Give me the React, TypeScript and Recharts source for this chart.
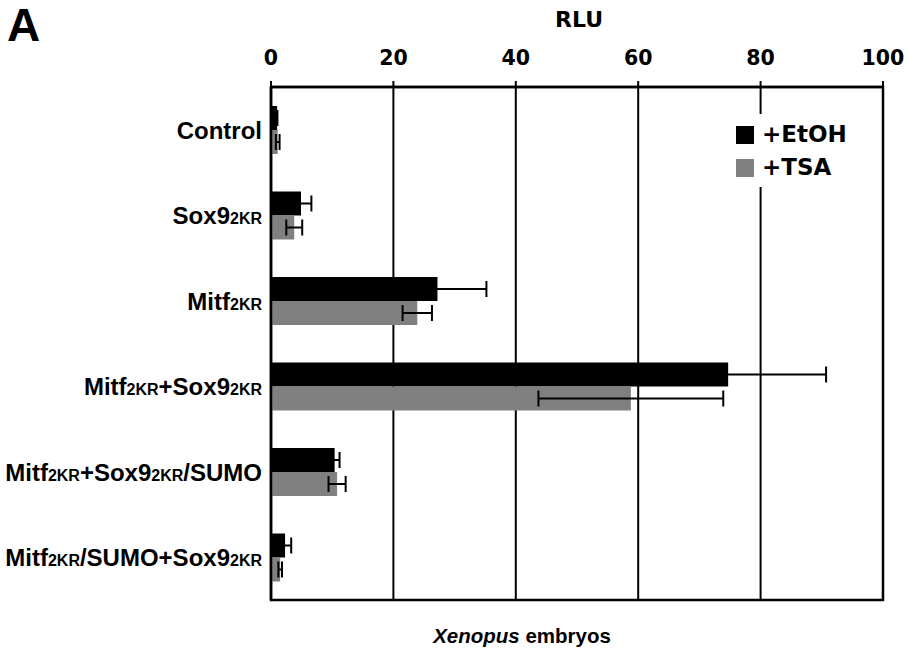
import { Fragment } from "react";
import {
  Bar,
  BarChart,
  CartesianGrid,
  ErrorBar,
  Legend,
  ReferenceArea,
  XAxis,
  YAxis
} from "recharts";

const categories = [
  "Control",
  "Sox92KR",
  "Mitf2KR",
  "Mitf2KR+Sox92KR",
  "Mitf2KR+Sox92KR/SUMO",
  "Mitf2KR/SUMO+Sox92KR"
];
const etohValues = [1.0, 4.9, 27.2, 74.7, 10.4, 2.3];
const etohErrors = [0.05, 1.7, 8.0, 16.0, 0.8, 1.0];
const tsaValues = [1.1, 3.8, 23.9, 58.8, 10.8, 1.5];
const tsaErrors = [0.3, 1.3, 2.4, 15.1, 1.4, 0.3];
const rluTicks = [0, 20, 40, 60, 80, 100];
const seriesNames = ["+EtOH", "+TSA"];
const seriesColors = ["#000000", "#808080"];

const data = categories.map((name, i) => ({
  name,
  etoh: etohValues[i],
  etohErr: etohErrors[i],
  tsa: tsaValues[i],
  tsaErr: tsaErrors[i]
}));

const sans = "'Liberation Sans', Arial, sans-serif";
const dejavu = "'DejaVu Sans', Verdana, sans-serif";

function CategoryTick({ x, y, payload }: any) {
  const parts = String(payload.value).split("2KR");
  return (
    <text
      x={x}
      y={y}
      dy={9}
      textAnchor="end"
      fontFamily={sans}
      fontWeight={700}
      fontSize={24}
      fill="#000"
    >
      {parts.map((part, i) => (
        <Fragment key={i}>
          {part && <tspan>{part}</tspan>}
          {i < parts.length - 1 && <tspan fontSize={16}>2KR</tspan>}
        </Fragment>
      ))}
    </text>
  );
}

function RluTick({ x, y, payload }: any) {
  return (
    <text
      x={x}
      y={y}
      textAnchor="middle"
      fontFamily={dejavu}
      fontWeight={700}
      fontSize={20.5}
      fill="#000"
    >
      {payload.value}
    </text>
  );
}

function LegendBox() {
  return (
    <div
      style={{
        background: "#fff",
        width: 140,
        height: 73,
        boxSizing: "border-box",
        padding: "4px 0 0 8px"
      }}
    >
      {seriesNames.map((name, i) => (
        <div
          key={name}
          style={{ display: "flex", alignItems: "center", height: 33 }}
        >
          <span
            style={{
              width: 18,
              height: 18,
              background: seriesColors[i],
              display: "inline-block",
              marginRight: 8
            }}
          />
          <span
            style={{
              fontFamily: dejavu,
              fontWeight: 700,
              fontSize: 23,
              color: "#000",
              lineHeight: "33px"
            }}
          >
            {name}
          </span>
        </div>
      ))}
    </div>
  );
}

export default function App() {
  return (
    <div style={{ position: "relative", width: 908, height: 652, background: "#fff" }}>
      <style>{"body { margin: 0; }"}</style>
      <BarChart
        layout="vertical"
        width={908}
        height={652}
        data={data}
        margin={{ top: 47, right: 25, bottom: 52, left: 0 }}
        barGap={0}
        barSize={24}
      >
        <CartesianGrid horizontal={false} stroke="#000" strokeWidth={2} />
        <XAxis
          type="number"
          orientation="top"
          height={40}
          domain={[0, 100]}
          ticks={rluTicks}
          interval={0}
          tick={<RluTick />}
          tickSize={6}
          tickMargin={16}
          tickLine={{ stroke: "#000", strokeWidth: 2 }}
          axisLine={{ stroke: "#000", strokeWidth: 2.5 }}
        />
        <YAxis
          type="category"
          dataKey="name"
          width={271}
          tick={<CategoryTick />}
          tickLine={false}
          tickSize={0}
          tickMargin={9}
          interval={0}
          axisLine={{ stroke: "#000", strokeWidth: 2.5 }}
        />
        <ReferenceArea
          x1={0}
          x2={100}
          fill="none"
          stroke="#000"
          strokeWidth={2.5}
          ifOverflow="visible"
        />
        <Legend
          layout="vertical"
          align="center"
          verticalAlign="middle"
          content={<LegendBox />}
          wrapperStyle={{ top: 114, left: 728, width: 140, height: 73 }}
        />
        <Bar dataKey="etoh" name={seriesNames[0]} fill={seriesColors[0]} isAnimationActive={false}>
          <ErrorBar dataKey="etohErr" direction="x" width={8} stroke="#000" strokeWidth={2} />
        </Bar>
        <Bar dataKey="tsa" name={seriesNames[1]} fill={seriesColors[1]} isAnimationActive={false}>
          <ErrorBar dataKey="tsaErr" direction="x" width={8} stroke="#000" strokeWidth={2} />
        </Bar>
      </BarChart>
      <svg
        width={908}
        height={652}
        style={{ position: "absolute", left: 0, top: 0, pointerEvents: "none" }}
      >
        <text x={7} y={41} fontFamily={sans} fontWeight={700} fontSize={46} fill="#000">
          A
        </text>
        <text x={579} y={27} textAnchor="middle" fontFamily={dejavu} fontWeight={700} fontSize={22} fill="#000">
          RLU
        </text>
        <text x={522} y={643} textAnchor="middle" fontFamily={sans} fontWeight={700} fontSize={20.5} fill="#000">
          <tspan fontStyle="italic">Xenopus</tspan> embryos
        </text>
      </svg>
    </div>
  );
}
